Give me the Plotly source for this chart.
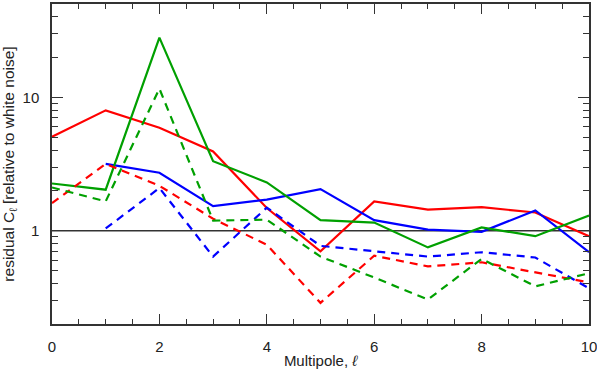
import plotly.graph_objects as go

ell = [0, 1, 2, 3, 4, 5, 6, 7, 8, 9, 10]

red_solid = [5.07, 7.98, 5.91, 3.93, 1.48, 0.70, 1.66, 1.44, 1.50, 1.37, 0.91]
blue_solid = [None, 3.17, 2.72, 1.53, 1.71, 2.05, 1.20, 1.02, 0.98, 1.42, 0.69]
green_solid = [2.26, 2.03, 28.0, 3.32, 2.30, 1.20, 1.15, 0.75, 1.06, 0.91, 1.30]

red_dash = [1.61, 3.17, 2.17, 1.23, 0.785, 0.288, 0.65, 0.54, 0.58, 0.485, 0.41]
blue_dash = [None, 1.04, 2.09, 0.64, 1.49, 0.77, 0.70, 0.64, 0.69, 0.63, 0.37]
green_dash = [2.11, 1.66, 11.6, 1.19, 1.21, 0.64, 0.446, 0.305, 0.615, 0.383, 0.48]

RED = '#ff0000'
BLUE = '#0000ff'
GREEN = '#00a000'


def trace_line(y, color, dash='solid'):
    return go.Scatter(x=ell,
                      y=y,
                      mode='lines',
                      showlegend=False,
                      connectgaps=False,
                      line={'color': color, 'width': 2.2, 'dash': dash})


fig = go.Figure()
for y, c in [(red_solid, RED), (blue_solid, BLUE), (green_solid, GREEN)]:
    fig.add_trace(trace_line(y, c))
for y, c in [(red_dash, RED), (blue_dash, BLUE), (green_dash, GREEN)]:
    fig.add_trace(trace_line(y, c, dash='8px,6px'))

# reference level
fig.add_shape(type='line', xref='paper', x0=0, x1=1, yref='y', y0=1, y1=1,
              line={'color': '#333333', 'width': 1.5}, layer='below')

axis_common = dict(showline=True, linecolor='#333333', linewidth=1.5,
                   mirror='ticks', ticks='inside', tickcolor='#333333',
                   tickwidth=1.2, showgrid=False, zeroline=False,
                   automargin=False, ticklabeloverflow='allow',
                   tickfont={'size': 15, 'color': '#222222'})

y_minor = [0.3, 0.4, 0.5, 0.6, 0.7, 0.8, 0.9,
           2, 3, 4, 5, 6, 7, 8, 9, 20, 30, 40]

fig.update_xaxes(range=[0, 10], tickmode='array', tickvals=[0, 2, 4, 6, 8, 10],
                 ticklen=10, ticklabelstandoff=8,
                 minor=dict(tickmode='array',
                            tickvals=[i * 0.5 for i in range(21)],
                            ticks='inside', ticklen=5, tickcolor='#333333',
                            tickwidth=1.2, showgrid=False),
                 title=dict(text='Multipole, <i>ℓ</i>', standoff=2,
                            font={'size': 15, 'color': '#222222'}),
                 **axis_common)

fig.update_yaxes(type='log', range=[-0.699, 1.699], tickmode='array',
                 tickvals=[1, 10], ticktext=['1', '10'],
                 ticklen=11, ticklabelstandoff=8,
                 minor=dict(tickmode='array', tickvals=y_minor,
                            ticks='inside', ticklen=6, tickcolor='#333333',
                            tickwidth=1.2, showgrid=False),
                 title=dict(text='residual C<sub>ℓ</sub> [relative to white noise]',
                            standoff=4, font={'size': 15.5, 'color': '#222222'}),
                 **axis_common)

fig.update_layout(width=597, height=374,
                  margin=dict(l=52, r=8, t=4, b=50),
                  paper_bgcolor='white', plot_bgcolor='white',
                  font={'family': 'Liberation Sans, Arial, sans-serif'})

fig.write_html("out.html", config={'displayModeBar': False},
               post_script="document.body.style.margin='0';")
